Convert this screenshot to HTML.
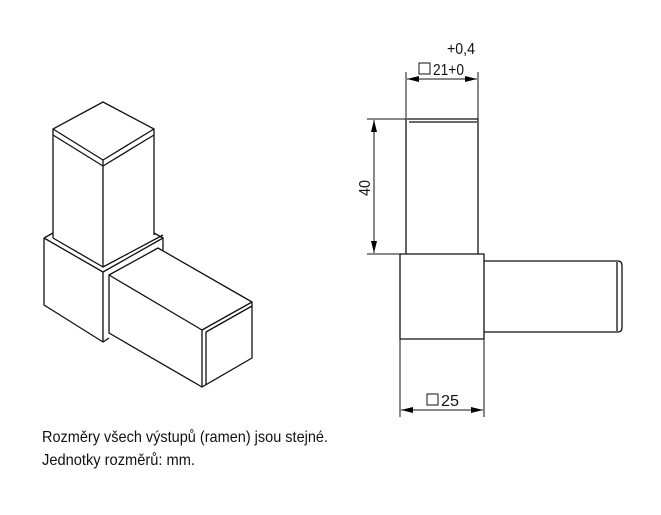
<!DOCTYPE html>
<html><head><meta charset="utf-8"><style>
html,body{margin:0;padding:0;background:#fff;width:661px;height:515px;overflow:hidden}
svg{display:block}
text{font-family:"Liberation Sans",sans-serif;fill:#111}
</style></head><body>
<svg width="661" height="515" viewBox="0 0 661 515" xmlns="http://www.w3.org/2000/svg">
<defs><marker id="a" markerWidth="12" markerHeight="6" refX="12" refY="3" orient="auto" markerUnits="userSpaceOnUse"><path d="M0,0 L12,3 L0,6 Z" fill="#000"/></marker></defs>
<g stroke="#111" stroke-width="1.3" fill="none" stroke-linejoin="round">
<path d="M53,129 L103,102 L154,129 L103,160 Z"/>
<path d="M53,135 L103,166 L154,135"/>
<path d="M53,129 V238 M103,160 V267 M154,129 V235"/>
<path d="M53,238 L103,267 L163,235"/>
<path d="M44,238 L53,233 M44,238 L103,272 L163,238 V250"/>
<path d="M154,233 L163,238"/>
<path d="M44,238 V305 L103,342 V272"/>
<path d="M103,342 L109,338"/>
<path d="M109,275 L158,248 L252,302 L202,330 Z"/>
<path d="M109,275 V333 L202,387 V330"/>
<path d="M252,302 V358 L202,387"/>
<path d="M206,332 V385 M206,332 L252,306"/>
<path d="M407,119 H478 V254 M406,119 V254 M409,122 H477"/>
<path d="M400,254 H484 V339 H400 Z"/>
<path d="M484,261 H618 Q622,261 622,266 V327 Q622,332 618,332 H484"/>
<path d="M617,262 V331"/>
</g>
<g stroke="#111" stroke-width="1" fill="none">
<path d="M406,72 V119 M478,72 V119"/>
<path d="M443,79 H407" marker-end="url(#a)"/><path d="M443,79 H477" marker-end="url(#a)"/>
<path d="M367,119 H406 M367,254 H400"/>
<path d="M374,186 V120" marker-end="url(#a)"/><path d="M374,186 V253" marker-end="url(#a)"/>
<path d="M400,339 V417 M484,339 V417"/>
<path d="M442,410 H401" marker-end="url(#a)"/><path d="M442,410 H483" marker-end="url(#a)"/>
<rect x="419" y="63" width="11" height="11"/>
<rect x="427" y="394" width="11" height="11"/>
</g>
<text x="447" y="54" font-size="16" textLength="28" lengthAdjust="spacingAndGlyphs">+0,4</text>
<text x="433" y="75" font-size="16" textLength="31" lengthAdjust="spacingAndGlyphs">21+0</text>
<text x="441" y="406" font-size="16" textLength="18" lengthAdjust="spacingAndGlyphs">25</text>
<text transform="translate(370,196) rotate(-90)" font-size="16" textLength="16" lengthAdjust="spacingAndGlyphs">40</text>
<text x="42" y="442" font-size="16" textLength="286" lengthAdjust="spacingAndGlyphs">Rozměry všech výstupů (ramen) jsou stejné.</text>
<text x="42" y="465" font-size="16" textLength="153" lengthAdjust="spacingAndGlyphs">Jednotky rozměrů: mm.</text>
</svg>
</body></html>
